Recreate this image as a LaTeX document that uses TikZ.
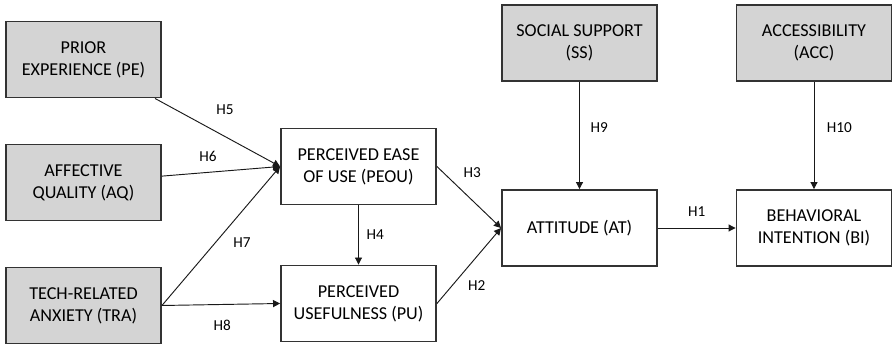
\documentclass[tikz,border=0pt]{standalone}
\usepackage{fontspec}
\setmainfont{Carlito}
\usetikzlibrary{arrows.meta}

\begin{document}
\begin{tikzpicture}[x=0.3mm,y=-0.3mm,
        box/.style={draw=black!80,line width=1.6pt,minimum width=46.5mm,minimum height=22.8mm,
                    align=center,inner sep=0pt,font=\fontsize{15.5}{18.7}\selectfont},
        given/.style={box,fill=black!17},
        path/.style={draw=black!90,line width=0.8pt,-{Triangle[length=6pt,width=6pt]}},
        hyp/.style={inner sep=0pt,font=\fontsize{13}{15}\selectfont}]
        \useasboundingbox (0,0) rectangle (892,346);
        \draw (83.5,59.5)  node[given] (pe)   {PRIOR\\EXPERIENCE (PE)};
        \draw (83.5,182.5) node[given] (aq)   {AFFECTIVE\\QUALITY (AQ)};
        \draw (83.5,305.5) node[given] (tra)  {TECH-RELATED\\ANXIETY (TRA)};
        \draw (358.5,166.5) node[box]  (peou) {PERCEIVED EASE\\OF USE (PEOU)};
        \draw (358.5,303.5) node[box]  (pu)   {PERCEIVED\\USEFULNESS (PU)};
        \draw (579.5,228)  node[box]   (at)   {ATTITUDE (AT)};
        \draw (814,228)    node[box]   (bi)   {BEHAVIORAL\\INTENTION (BI)};
        \draw (579.5,43)   node[given] (ss)   {SOCIAL SUPPORT\\(SS)};
        \draw (814,43)     node[given] (acc)  {ACCESSIBILITY\\(ACC)};
        \draw[path] (pe)   -- (peou.west) node[hyp, pos=0.56, yshift=8.1mm] {H5};
        \draw[path] (aq)   -- (peou.west) node[hyp, pos=0.39, yshift=4.8mm] {H6};
        \draw[path] (tra.east) -- (peou.west) node[hyp, pos=0.45, xshift=8.1mm] {H7};
        \draw[path] (tra.east) -- (pu.west) node[hyp, pos=0.51, yshift=-6.4mm] {H8};
        \draw[path] (peou) -- (pu)         node[hyp, midway, xshift=5mm] {H4};
        \draw[path] (peou.east) -- (at.west) node[hyp, pos=0.55, yshift=8.4mm] {H3};
        \draw[path] (pu.east) -- (at.west)   node[hyp, pos=0.62, yshift=-8.6mm] {H2};
        \draw[path] (ss)   -- (at)         node[hyp, pos=0.43, xshift=5.9mm] {H9};
        \draw[path] (acc)  -- (bi)         node[hyp, pos=0.43, xshift=7.6mm] {H10};
        \draw[path] (at)   -- (bi)         node[hyp, midway, yshift=4.8mm] {H1};
\end{tikzpicture}
\end{document}
